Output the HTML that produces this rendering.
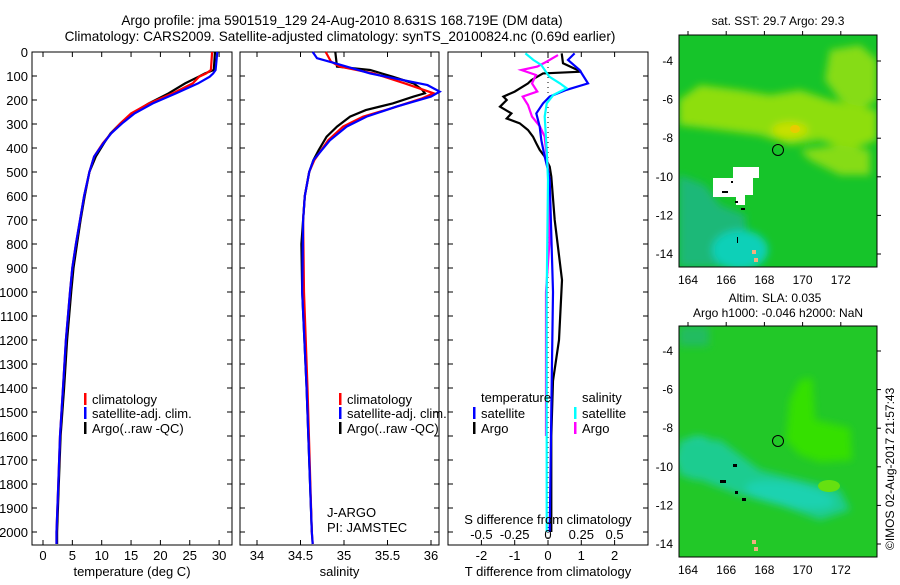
<!DOCTYPE html>
<html><head><meta charset="utf-8"><style>
body{margin:0;background:#fff;}
svg text{font-family:"Liberation Sans",sans-serif;font-size:13px;fill:#000;}
</style></head><body>
<svg id="fig" width="900" height="580" viewBox="0 0 900 580" xmlns="http://www.w3.org/2000/svg">
<defs>
<filter id="bl" x="-50%" y="-50%" width="200%" height="200%"><feGaussianBlur stdDeviation="4"/></filter>
<clipPath id="c1"><rect x="679" y="35" width="198" height="232"/></clipPath>
<clipPath id="c2"><rect x="679" y="326" width="198" height="231"/></clipPath>
</defs>
<text x="342" y="25" text-anchor="middle" style="font-size:13.6px">Argo profile: jma 5901519_129 24-Aug-2010 8.631S 168.719E (DM data)</text>
<text x="340" y="41" text-anchor="middle" style="font-size:13.6px">Climatology: CARS2009. Satellite-adjusted climatology: synTS_20100824.nc (0.69d earlier)</text>

<g id="p1"></g>
<g id="p2"></g>
<g id="p3"></g>

<!-- SST map -->
<g>
<text x="778" y="25" text-anchor="middle" style="font-size:12px">sat. SST: 29.7 Argo: 29.3</text>
<g clip-path="url(#c1)">
<rect x="679" y="35" width="198" height="232" fill="#16c42a"/>
<g filter="url(#bl)">
<polygon points="830,50 860,45 877,60 877,100 860,110 840,100 825,80" fill="#86dc12"/>
<polygon points="679,100 700,85 740,90 770,95 800,90 830,100 877,110 877,140 850,150 820,140 790,145 760,135 720,130 679,125" fill="#8ede10"/>
<polygon points="800,150 840,145 870,150 870,175 840,175 810,160" fill="#86dc12"/>
<ellipse cx="790" cy="130" rx="18" ry="8" fill="#c8e000"/>
<polygon points="679,175 705,185 720,205 745,215 750,267 679,267" fill="#1cb878"/>
<ellipse cx="740" cy="250" rx="28" ry="20" fill="#0ed0b8"/>
</g>
<ellipse cx="795" cy="129" rx="5" ry="4" fill="#e8cc00"/>
<polygon points="713,178 733,178 733,167 759,167 759,178 753,178 753,195 745,195 745,205 736,205 736,197 713,197" fill="#fff"/>
<rect x="731" y="181" width="2" height="2" fill="#000"/><rect x="722" y="191" width="6" height="2" fill="#000"/><rect x="735" y="201" width="3" height="2" fill="#000"/><rect x="741" y="208" width="4" height="2" fill="#000"/><rect x="737" y="237" width="1" height="6" fill="#000"/><rect x="752" y="250" width="4" height="4" fill="#f0b080"/><rect x="754" y="258" width="4" height="4" fill="#f0b080"/>
</g>
<rect x="679" y="35" width="198" height="232" fill="none" stroke="#000" stroke-width="1"/>
<circle cx="778" cy="150" r="5.5" fill="none" stroke="#000" stroke-width="1"/>
<g id="m1ax"></g>
</g>

<!-- SLA map -->
<g>
<text x="775" y="302" text-anchor="middle" style="font-size:12px">Altim. SLA: 0.035</text>
<text x="778" y="317" text-anchor="middle" style="font-size:12px">Argo h1000: -0.046 h2000: NaN</text>
<g clip-path="url(#c2)">
<rect x="679" y="326" width="198" height="231" fill="#22c828"/>
<g filter="url(#bl)">
<polygon points="786,440 790,400 800,380 812,378 815,420 850,428 852,460 820,462 800,455" fill="#36e000"/>
<ellipse cx="698" cy="458" rx="22" ry="22" fill="#1ecfa8"/>
<polygon points="679,440 720,440 760,470 800,480 840,490 850,510 820,520 780,505 740,495 700,480 679,475" fill="#1ccc90"/>
<ellipse cx="790" cy="495" rx="45" ry="12" fill="#1cd2b0" transform="rotate(10 790 495)"/>
<rect x="679" y="326" width="30" height="20" fill="#20bc60"/>
</g>
<ellipse cx="829" cy="486" rx="11" ry="6" fill="#66e010"/>
<rect x="733" y="464" width="4" height="3" fill="#000"/><rect x="720" y="480" width="6" height="3" fill="#000"/><rect x="735" y="491" width="3" height="3" fill="#000"/><rect x="742" y="498" width="4" height="3" fill="#000"/><rect x="752" y="540" width="4" height="4" fill="#f0b080"/><rect x="754" y="547" width="4" height="4" fill="#f0b080"/>
</g>
<rect x="679" y="326" width="198" height="231" fill="none" stroke="#000" stroke-width="1"/>
<circle cx="778" cy="441" r="5.5" fill="none" stroke="#000" stroke-width="1"/>
<g id="m2ax"></g>
</g>
<text x="0" y="0" transform="translate(894,550) rotate(-90)" style="font-size:12px">©IMOS 02-Aug-2017 21:57:43</text>
</svg>
<script>
// ---- data ----
const tDepth = [0,75,89,103,131,172,214,256,297,339,380,436,500,600,700,800,900,1000,1200,1400,1600,1800,2000,2050];
const tClim = [28.8,28.6,27.8,26.6,25.5,22.1,18.1,15.0,13.2,11.6,10.2,8.7,7.9,7.0,6.3,5.6,5.0,4.6,3.9,3.4,2.9,2.6,2.3,2.3];
const tSat = [29.7,29.4,29.0,28.4,26.4,22.7,18.7,15.6,13.5,11.6,10.3,8.7,7.9,7.0,6.3,5.6,5.0,4.6,3.9,3.4,2.9,2.6,2.3,2.3];
const tArgo = [29.3,29.1,27.6,26.5,24.2,21.4,18.0,15.2,13.2,11.5,10.4,9.0,7.9,7.1,6.4,5.8,5.2,4.8,4.1,3.6,3.0,2.7,2.4,2.4];
const sClimDepth = [0,40,61,89,131,172,193,235,269,311,367,450,500,600,700,1000,1400,2000,2050];
const sClim = [34.79,34.85,34.95,35.34,35.7,36.03,35.9,35.54,35.22,34.99,34.82,34.66,34.6,34.55,34.53,34.54,34.58,34.63,34.64];
const sSatDepth = [0,26,47,89,138,165,186,228,269,311,367,450,500,600,700,1000,1400,2000,2050];
const sSat = [34.64,34.69,34.9,35.3,35.96,36.1,36.0,35.6,35.26,35.03,34.84,34.65,34.6,34.55,34.53,34.52,34.57,34.63,34.64];
const sArgoDepth = [0,61,75,103,131,158,172,186,214,242,269,311,353,408,450,500,600,800,1000,1400,2000];
const sArgo = [34.9,34.92,35.3,35.56,35.8,35.9,35.93,35.8,35.56,35.25,35.07,34.92,34.8,34.71,34.65,34.6,34.55,34.51,34.52,34.57,34.63];
const dTArgoDepth = [6,47,82,89,117,131,165,186,200,228,256,277,297,325,353,381,408,436,478,519,700,950,1200,1370,1600,2000];
const dTArgo = [0.41,0.45,1.0,-0.15,-0.5,-0.6,-1.0,-1.34,-1.24,-1.44,-1.1,-1.24,-0.85,-0.6,-0.45,-0.35,-0.25,-0.1,0.05,0.1,0.2,0.42,0.33,0.15,0.1,0.1];
const dTSatDepth = [6,33,75,131,158,186,214,256,311,367,436,492,533,1000,1500,2000];
const dTSat = [0.8,0.6,0.95,1.2,0.55,0.05,-0.15,-0.35,-0.25,-0.2,-0.1,0,0.05,0.15,0.1,0.05];
const dSSatDepth = [6,33,54,103,131,151,179,214,269,408,533,1000,2000];
const dSSat = [-0.17,-0.11,-0.05,0.01,0.09,0.14,0.04,-0.01,-0.025,-0.01,0,-0.01,-0.01];
const dSArgoDepth = [13,40,61,75,96,131,165,186,221,269,311,353,408,533,800,1000,1600];
const dSArgo = [0.075,-0.01,-0.08,-0.2,-0.09,-0.12,-0.08,-0.19,-0.15,-0.12,-0.06,-0.025,-0.015,0.01,0.01,-0.015,-0.015];
const depthTicks = [0,100,200,300,400,500,600,700,800,900,1000,1100,1200,1300,1400,1500,1600,1700,1800,1900,2000];
const tTicks = [0,5,10,15,20,25,30];
const sTicks = [34,34.5,35,35.5,36];
const dTTicks = [-2,-1,0,1,2];
const dSTicks = [-0.5,-0.25,0,0.25,0.5];
const lonTicks = [164,166,168,170,172];
const latTicks = [-4,-6,-8,-10,-12,-14];

const NS='http://www.w3.org/2000/svg';
const TOP=52, BOT=545;
const yD = d => TOP + d*0.24;
const xT = v => 43 + v*5.87;
const xS = v => 257 + (v-34)*87;
const xDT = v => 548 + v*33.3;
const xDS = v => 548 + v*4*33.3;
function el(tag, attrs, parent, text){
  const e=document.createElementNS(NS,tag);
  for(const k in attrs) e.setAttribute(k,attrs[k]);
  if(text!==undefined) e.textContent=text;
  parent.appendChild(e); return e;
}
function line(parent, depths, vals, xf, color, name){
  const pts = depths.map((d,i)=>xf(vals[i]).toFixed(1)+','+yD(d).toFixed(1)).join(' ');
  const p = el('polyline',{points:pts,fill:'none',stroke:color,'stroke-width':2.2,'stroke-linejoin':'miter'},parent);
  
  
}
function panel(g, x0, x1, ticks, xf, fmt, label, showY){
  el('rect',{x:x0,y:TOP,width:x1-x0,height:BOT-TOP,fill:'none',stroke:'#000','stroke-width':1},g);
  ticks.forEach(t=>{
    const x=xf(t);
    el('line',{x1:x,x2:x,y1:BOT,y2:BOT-5,stroke:'#000'},g);
    el('line',{x1:x,x2:x,y1:TOP,y2:TOP+5,stroke:'#000'},g);
    const tx = el('text',{x:x,y:BOT+15,'text-anchor':'middle'},g,fmt(t));
    
    
  });
  depthTicks.forEach(d=>{
    el('line',{x1:x0,x2:x0+5,y1:yD(d),y2:yD(d),stroke:'#000'},g);
    el('line',{x1:x1,x2:x1-5,y1:yD(d),y2:yD(d),stroke:'#000'},g);
    if(showY){
      const ty = el('text',{x:28,y:yD(d)+5,'text-anchor':'end'},g,String(d));
      
      
    }
  });
  const xl = el('text',{x:(x0+x1)/2,y:576,'text-anchor':'middle'},g,label);
  
  
}
function legend(g, x, y, color, txt){
  el('rect',{x:x,y:y-10,width:2.5,height:12,fill:color},g);
  const t = el('text',{x:x+8,y:y+1},g,txt);
  
  
}
const p1=document.getElementById('p1'), p2=document.getElementById('p2'), p3=document.getElementById('p3');
panel(p1,32,232,tTicks,xT,String,'temperature (deg C)',true);
line(p1,tDepth,tArgo,xT,'#000','temperature-argo-line');
line(p1,tDepth,tClim,xT,'#f00','temperature-climatology-line');
line(p1,tDepth,tSat,xT,'#00f','temperature-satellite-line');
legend(p1,84,403,'#f00','climatology');
legend(p1,84,417,'#00f','satellite-adj. clim.');
legend(p1,84,432,'#000','Argo(..raw -QC)');

panel(p2,240,439,sTicks,xS,String,'salinity',false);
line(p2,sArgoDepth,sArgo,xS,'#000','salinity-argo-line');
line(p2,sClimDepth,sClim,xS,'#f00','salinity-climatology-line');
line(p2,sSatDepth,sSat,xS,'#00f','salinity-satellite-line');
legend(p2,339,403,'#f00','climatology');
legend(p2,339,417,'#00f','satellite-adj. clim.');
legend(p2,339,432,'#000','Argo(..raw -QC)');
let t1=el('text',{x:327,y:517},p2,'J-ARGO');  
let t2=el('text',{x:327,y:532},p2,'PI: JAMSTEC');  

panel(p3,448,648,dTTicks,xDT,String,'T difference from climatology',false);
el('line',{x1:548,x2:548,y1:TOP,y2:BOT,stroke:'#000','stroke-dasharray':'1,4'},p3);
line(p3,dTArgoDepth,dTArgo,xDT,'#000','t-diff-argo-line');
line(p3,dSArgoDepth,dSArgo,xDS,'#f0f','s-diff-argo-line');
line(p3,dTSatDepth,dTSat,xDT,'#00f','t-diff-satellite-line');
line(p3,dSSatDepth,dSSat,xDS,'#0ff','s-diff-satellite-line');
let t3=el('text',{x:481,y:402},p3,'temperature');  
let t4=el('text',{x:582,y:402},p3,'salinity');  
legend(p3,473,417,'#00f','satellite');
legend(p3,473,432,'#000','Argo');
legend(p3,574,417,'#0ff','satellite');
legend(p3,574,432,'#f0f','Argo');
let t5=el('text',{x:548,y:524,'text-anchor':'middle'},p3,'S difference from climatology');  
dSTicks.forEach(v=>{
  const t=el('text',{x:xDS(v),y:539,'text-anchor':'middle'},p3,String(v));
  
  
});

function mapAxes(gid, top, bot, lat0y, labY){
  const g=document.getElementById(gid);
  lonTicks.forEach(l=>{
    const x=688+(l-164)*19.1;
    el('line',{x1:x,x2:x,y1:top,y2:top-4,stroke:'#000'},g);
    const t=el('text',{x:x,y:labY,'text-anchor':'middle',style:'font-size:12px'},g,String(l));
    
    
  });
  latTicks.forEach(l=>{
    const y=lat0y+(-4-l)*19.3;
    el('line',{x1:877,x2:881,y1:y,y2:y,stroke:'#000'},g);
    const t=el('text',{x:673,y:y+4,'text-anchor':'end',style:'font-size:12px'},g,String(l));
    
    
  });
}
mapAxes('m1ax',35,267,61,284);
mapAxes('m2ax',326,557,351,574);
</script>
</body></html>
